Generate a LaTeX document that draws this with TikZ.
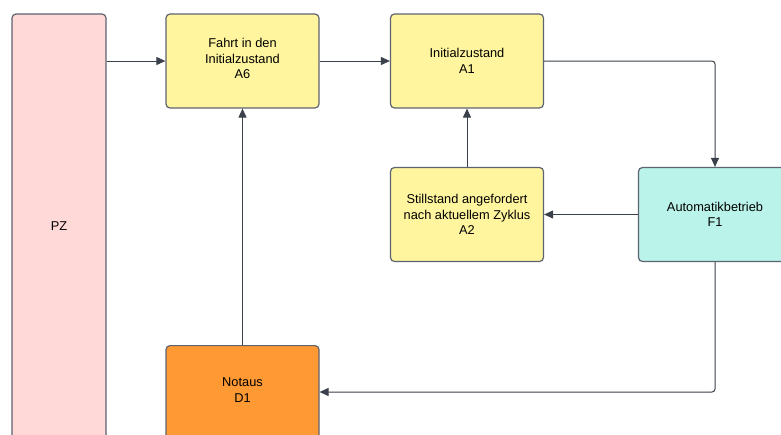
\documentclass[tikz,border=0pt]{standalone}
\usepackage{fontspec}
\setmainfont{Liberation Sans}
\usetikzlibrary{arrows.meta}
\definecolor{edgegray}{HTML}{5E6370}
\definecolor{linegray}{HTML}{3A414A}
\definecolor{pzpink}{HTML}{FFD8D8}
\definecolor{stateyellow}{HTML}{FFF59E}
\definecolor{autocyan}{HTML}{B9F3EA}
\definecolor{stoporange}{HTML}{FF9933}
\tikzset{
  labeltext/.style={font=\fontsize{12.8}{15.5}\selectfont, text=black, align=center},
  statebox/.style={labeltext, draw=edgegray, line width=1.2pt, rounded corners=4pt,
    minimum width=153pt, minimum height=94pt, inner sep=0pt},
  flow/.style={draw=linegray, line width=1pt, rounded corners=3pt,
    -{Triangle[length=9pt,width=8pt]}}
}
\begin{document}
\begin{tikzpicture}[x=1pt,y=-1pt]
\useasboundingbox (0,0) rectangle (781,434);
\clip (0,0) rectangle (781,434);
% boxes
\node[statebox, fill=pzpink, minimum width=94pt, minimum height=460pt] (pz) at (59,244) {};
\node[labeltext] (pzlabel) at (59,226) {PZ};
\node[statebox, fill=stateyellow] (a6) at (242.5,61) {};
\node[labeltext] (a6label) at (242.5,58.5) {Fahrt in den\\Initialzustand\\A6};
\node[statebox, fill=stateyellow] (a1) at (467,61) {Initialzustand\\A1};
\node[statebox, fill=stateyellow] (a2) at (467,214.5) {Stillstand angefordert\\nach aktuellem Zyklus\\A2};
\node[statebox, fill=autocyan] (f1) at (715,214.5) {Automatikbetrieb\\F1};
\node[statebox, fill=stoporange, anchor=north] (d1) at (242.5,345) {};
\node[labeltext] (d1label) at (242.5,390) {Notaus\\D1};
% connectors
\coordinate (pzout) at (pz.east |- a6.west);
\draw[flow] (pzout) -- (a6.west);
\draw[flow] (a6.east) -- (a1.west);
\draw[flow] (a1.east) -| (f1.north);
\draw[flow] (f1.west) -- (a2.east);
\draw[flow] (a2.north) -- (a1.south);
\draw[flow] (d1.north) -- (a6.south);
\coordinate (d1in) at ([yshift=-392pt]d1.east |- 0,0);
\draw[flow] (f1.south) |- (d1in);
\end{tikzpicture}
\end{document}
